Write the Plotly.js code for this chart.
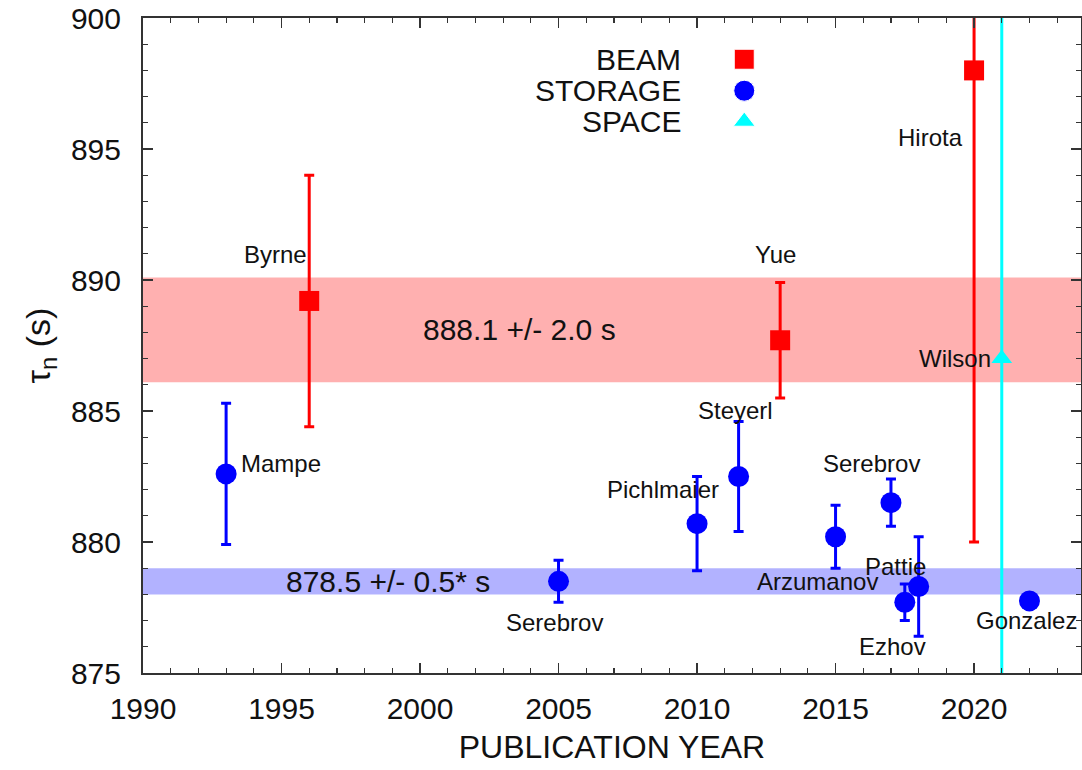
<!DOCTYPE html>
<html>
<head>
<meta charset="utf-8">
<script src="https://cdn.plot.ly/plotly-3.0.1.min.js"></script>
<style>html,body{margin:0;padding:0;background:#fff;}#chart{width:1082px;height:770px;}</style>
</head>
<body>
<div id="chart"></div>
<script>
// ---- data ----
var beamYears = [1996, 2013, 2020];
var beamTau   = [889.2, 887.7, 898.0];
var beamErr   = [4.8, 2.2, 18.0];
var beamNames = ['Byrne', 'Yue', 'Hirota'];

var storageYears = [1993, 2005, 2010, 2011.5, 2015, 2017, 2017.5, 2018, 2022];
var storageTau   = [882.6, 878.5, 880.7, 882.5, 880.2, 881.5, 877.7, 878.3, 877.75];
var storageErr   = [2.7, 0.8, 1.8, 2.1, 1.2, 0.9, 0.7, 1.9, 0.28];
var storageNames = ['Mampe', 'Serebrov', 'Pichlmaier', 'Steyerl', 'Arzumanov', 'Serebrov', 'Pattie', 'Ezhov', 'Gonzalez'];

var spaceYears = [2021];
var spaceTau   = [887.0];
var spaceErr   = [14.0];
var spaceNames = ['Wilson'];

var bandCenters = [888.1, 878.5];
var bandHalfWidths = [2.0, 0.5];
var bandLabels = ['888.1 +/- 2.0 s', '878.5 +/- 0.5* s'];
var bandLabelYears = [2003.6, 1998.85];

var categoryNames = ['BEAM', 'STORAGE', 'SPACE'];

// ---- styling / label placement (pixels) ----
var beamLabelOff = [[-34, -46, 'center'], [-5, -86, 'center'], [-44, 67, 'center']];
var storageLabelOff = [[13, -10, 'left'], [-4, 41, 'center'], [-34, -34, 'center'], [-3, -66, 'center'],
                       [-18, 45, 'center'], [-19, -39, 'center'], [-9, -36, 'center'], [-26, 60, 'center'], [-55, 20, 'left']];
var spaceLabelOff = [[-9, 0, 'right']];

var FONT = 'Liberation Sans, Arial, Helvetica, sans-serif';
var RED = '#ff0000', BLUE = '#0000ff', CYAN = '#00ffff';
var TXT = '#111';

var traces = [
  {
    x: beamYears, y: beamTau, type: 'scatter', mode: 'markers', name: 'BEAM',
    marker: {symbol: 'square', size: 20, color: RED, opacity: 1},
    error_y: {type: 'data', array: beamErr, visible: true, color: RED, thickness: 3, width: 5},
    showlegend: false
  },
  {
    x: storageYears, y: storageTau, type: 'scatter', mode: 'markers', name: 'STORAGE',
    marker: {symbol: 'circle', size: 21, color: BLUE, opacity: 1},
    error_y: {type: 'data', array: storageErr, visible: true, color: BLUE, thickness: 3, width: 5},
    showlegend: false
  },
  {
    x: spaceYears, y: spaceTau, type: 'scatter', mode: 'markers', name: 'SPACE',
    marker: {symbol: 'triangle-up', size: 18, color: CYAN, opacity: 1},
    error_y: {type: 'data', array: spaceErr, visible: true, color: CYAN, thickness: 3, width: 0},
    showlegend: false
  },
  // legend key symbols on an overlay axis
  {
    x: [0.641, 0.641, 0.641], y: [0.937, 0.889, 0.842], xaxis: 'x2', yaxis: 'y2',
    type: 'scatter', mode: 'markers', showlegend: false, hoverinfo: 'skip',
    marker: {symbol: ['square', 'circle', 'triangle-up'], size: [20, 21, 19], color: [RED, BLUE, CYAN], opacity: 1}
  }
];

var annotations = [];
function addLabels(xs, ys, names, offs) {
  for (var i = 0; i < xs.length; i++) {
    annotations.push({
      x: xs[i], y: ys[i], xref: 'x', yref: 'y', text: names[i], showarrow: false,
      xanchor: offs[i][2], yanchor: 'middle', xshift: offs[i][0], yshift: -offs[i][1],
      font: {family: FONT, size: 24, color: TXT}
    });
  }
}
addLabels(beamYears, beamTau, beamNames, beamLabelOff);
addLabels(storageYears, storageTau, storageNames, storageLabelOff);
addLabels(spaceYears, spaceTau, spaceNames, spaceLabelOff);

for (var b = 0; b < bandLabels.length; b++) {
  annotations.push({
    x: bandLabelYears[b], y: bandCenters[b], xref: 'x', yref: 'y', text: bandLabels[b], showarrow: false,
    xanchor: 'center', yanchor: 'middle', font: {family: FONT, size: 30, color: TXT}
  });
}
var legendY = [0.937, 0.889, 0.842];
for (var c = 0; c < categoryNames.length; c++) {
  annotations.push({
    x: 0.576, y: legendY[c], xref: 'paper', yref: 'paper', text: categoryNames[c], showarrow: false,
    xanchor: 'right', yanchor: 'middle', font: {family: FONT, size: 30, color: TXT}
  });
}

var bandColors = ['rgba(255,0,0,0.31)', 'rgba(0,0,255,0.30)'];
var shapes = bandCenters.map(function (c, i) {
  return {type: 'rect', xref: 'paper', yref: 'y', x0: 0, x1: 1,
          y0: c - bandHalfWidths[i], y1: c + bandHalfWidths[i],
          fillcolor: bandColors[i], line: {width: 0}, layer: 'below'};
});

var axisCommon = {
  showgrid: false, zeroline: false, showline: true, linecolor: '#333', linewidth: 2,
  mirror: 'allticks', ticks: 'inside', ticklen: 10, tickwidth: 1.5, tickcolor: '#333',
  tickfont: {family: FONT, size: 30, color: TXT}
};

var layout = {
  width: 1082, height: 770,
  margin: {l: 143, r: 1, t: 18, b: 97},
  paper_bgcolor: '#fff', plot_bgcolor: '#fff',
  showlegend: false,
  xaxis: Object.assign({}, axisCommon, {
    range: [1990, 2023.86], tickmode: 'linear', tick0: 1990, dtick: 5,
    minor: {dtick: 1, ticks: 'inside', ticklen: 5, tickwidth: 1.2, tickcolor: '#333'},
    ticklabelstandoff: 8,
    title: {text: 'PUBLICATION YEAR', font: {family: FONT, size: 32, color: TXT}, standoff: 12}
  }),
  yaxis: Object.assign({}, axisCommon, {
    range: [875, 900], tickmode: 'linear', tick0: 875, dtick: 5,
    minor: {dtick: 1, ticks: 'inside', ticklen: 5, tickwidth: 1.2, tickcolor: '#333'},
    ticklabelstandoff: 14,
    title: {text: 'τ<sub>n</sub> (s)', font: {family: FONT, size: 34, color: TXT}, standoff: 10}
  }),
  xaxis2: {overlaying: 'x', range: [0, 1], visible: false, fixedrange: true},
  yaxis2: {overlaying: 'y', range: [0, 1], visible: false, fixedrange: true},
  shapes: shapes,
  annotations: annotations
};

Plotly.newPlot('chart', traces, layout, {displayModeBar: false, staticPlot: true});
</script>
</body>
</html>
